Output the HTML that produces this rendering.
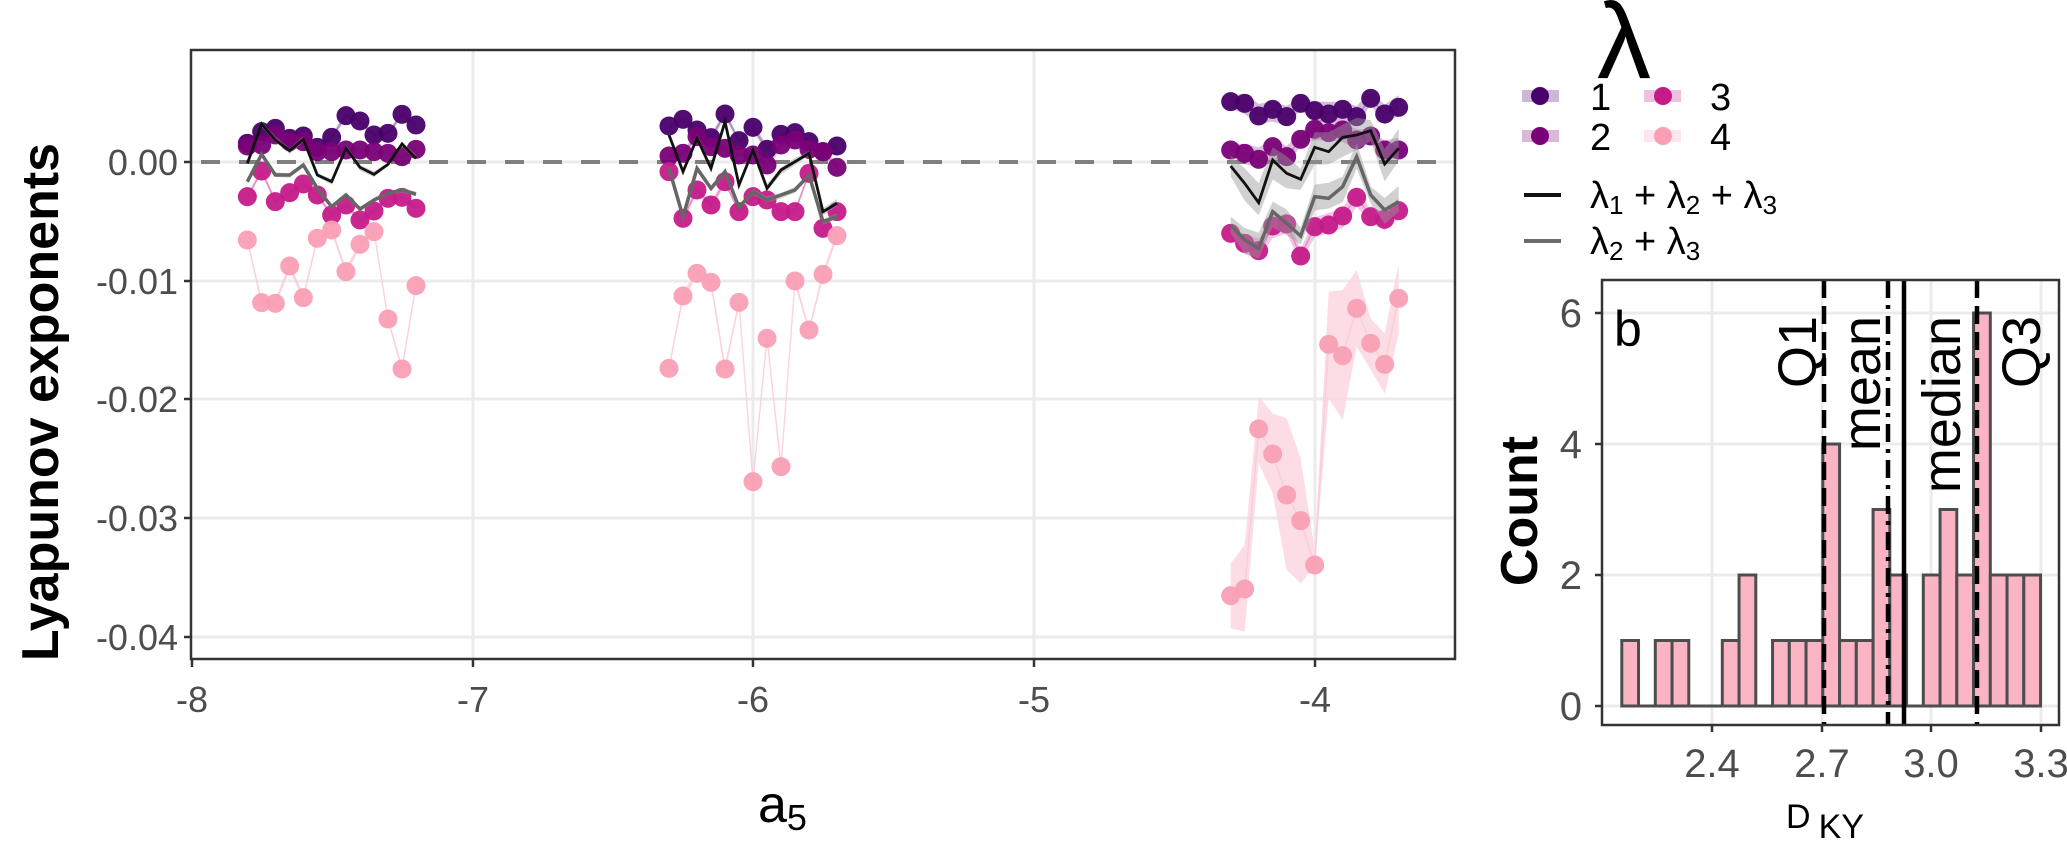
<!DOCTYPE html>
<html><head><meta charset="utf-8">
<style>
html,body{margin:0;padding:0;background:#fff;}
svg{display:block;font-family:"Liberation Sans",Arial,sans-serif;}
</style></head>
<body>
<svg id="s" width="2067" height="844" viewBox="0 0 2067 844" xmlns="http://www.w3.org/2000/svg">
<rect width="2067" height="844" fill="#fff"/>
<g stroke="#ebebeb" stroke-width="3">
<line x1="191" y1="162" x2="1455" y2="162"/>
<line x1="191" y1="281" x2="1455" y2="281"/>
<line x1="191" y1="399" x2="1455" y2="399"/>
<line x1="191" y1="518" x2="1455" y2="518"/>
<line x1="191" y1="637" x2="1455" y2="637"/>
<line x1="473" y1="50" x2="473" y2="659"/>
<line x1="753" y1="50" x2="753" y2="659"/>
<line x1="1034" y1="50" x2="1034" y2="659"/>
<line x1="1315" y1="50" x2="1315" y2="659"/>
</g>
<line x1="191" y1="162" x2="1455" y2="162" stroke="#7f7f7f" stroke-width="4" stroke-dasharray="19 19" stroke-dashoffset="-10"/>
<g id="data"></g>
<rect x="191" y="50" width="1264" height="609" fill="none" stroke="#333" stroke-width="2.5"/>
<g stroke="#333" stroke-width="2.5">
<line x1="184" y1="162" x2="191" y2="162"/><line x1="184" y1="281" x2="191" y2="281"/>
<line x1="184" y1="399" x2="191" y2="399"/><line x1="184" y1="518" x2="191" y2="518"/>
<line x1="184" y1="637" x2="191" y2="637"/>
<line x1="192" y1="659" x2="192" y2="667"/><line x1="473" y1="659" x2="473" y2="667"/>
<line x1="753" y1="659" x2="753" y2="667"/><line x1="1034" y1="659" x2="1034" y2="667"/>
<line x1="1315" y1="659" x2="1315" y2="667"/>
</g>
<g fill="#4d4d4d" font-size="36" text-anchor="end">
<text x="178" y="175">0.00</text><text x="178" y="294">-0.01</text>
<text x="178" y="412">-0.02</text><text x="178" y="531">-0.03</text>
<text x="178" y="650">-0.04</text>
</g>
<g fill="#4d4d4d" font-size="36" text-anchor="middle">
<text x="192" y="712">-8</text><text x="473" y="712">-7</text><text x="753" y="712">-6</text>
<text x="1034" y="712">-5</text><text x="1315" y="712">-4</text>
</g>
<text x="758" y="822" font-size="52" fill="#000">a<tspan font-size="36" dy="8">5</tspan></text>
<text transform="translate(58,402) rotate(-90)" text-anchor="middle" font-size="52" font-weight="bold" fill="#000">Lyapunov exponents</text>

<text x="1597" y="78" font-size="108" fill="#000">λ</text>
<g>
<rect x="1522" y="90" width="37" height="12" fill="#49006a" opacity="0.28"/><circle cx="1540" cy="96" r="9" fill="#49006a"/>
<rect x="1522" y="130" width="37" height="12" fill="#7a0177" opacity="0.28"/><circle cx="1540" cy="136" r="9" fill="#7a0177"/>
<rect x="1644" y="90" width="37" height="12" fill="#c51b8a" opacity="0.28"/><circle cx="1663" cy="96" r="9" fill="#c51b8a"/>
<rect x="1644" y="130" width="37" height="12" fill="#f768a1" opacity="0.18"/><circle cx="1663" cy="136" r="9" fill="#f99fb4"/>
<line x1="1524" y1="195" x2="1561" y2="195" stroke="#111" stroke-width="4"/>
<line x1="1524" y1="241" x2="1561" y2="241" stroke="#6b6b6b" stroke-width="4"/>
</g>
<g font-size="38" fill="#000">
<text x="1590" y="110">1</text><text x="1710" y="110">3</text>
<text x="1590" y="150">2</text><text x="1710" y="150">4</text>
<text x="1590" y="208">λ<tspan font-size="26" dy="6">1</tspan><tspan dy="-6"> + λ</tspan><tspan font-size="26" dy="6">2</tspan><tspan dy="-6"> + λ</tspan><tspan font-size="26" dy="6">3</tspan></text>
<text x="1590" y="254">λ<tspan font-size="26" dy="6">2</tspan><tspan dy="-6"> + λ</tspan><tspan font-size="26" dy="6">3</tspan></text>
</g>

<g stroke="#ebebeb" stroke-width="3">
<line x1="1602" y1="313" x2="2059" y2="313"/><line x1="1602" y1="444" x2="2059" y2="444"/>
<line x1="1602" y1="575" x2="2059" y2="575"/><line x1="1602" y1="706" x2="2059" y2="706"/>
<line x1="1712" y1="280" x2="1712" y2="725"/><line x1="1822" y1="280" x2="1822" y2="725"/>
<line x1="1931" y1="280" x2="1931" y2="725"/><line x1="2041" y1="280" x2="2041" y2="725"/>
</g>
<g id="bars"></g>
<g stroke="#000" stroke-width="4.5">
<line x1="1824" y1="280" x2="1824" y2="725" stroke-dasharray="18 8"/>
<line x1="1888" y1="280" x2="1888" y2="725" stroke-dasharray="18 7 4 7"/>
<line x1="1904" y1="280" x2="1904" y2="725"/>
<line x1="1977" y1="280" x2="1977" y2="725" stroke-dasharray="18 8"/>
</g>
<rect x="1602" y="280" width="457" height="445" fill="none" stroke="#333" stroke-width="2.5"/>
<g stroke="#333" stroke-width="2.5">
<line x1="1595" y1="313" x2="1602" y2="313"/><line x1="1595" y1="444" x2="1602" y2="444"/>
<line x1="1595" y1="575" x2="1602" y2="575"/><line x1="1595" y1="706" x2="1602" y2="706"/>
<line x1="1712" y1="725" x2="1712" y2="732"/><line x1="1822" y1="725" x2="1822" y2="732"/>
<line x1="1931" y1="725" x2="1931" y2="732"/><line x1="2041" y1="725" x2="2041" y2="732"/>
</g>
<g fill="#4d4d4d" font-size="40" text-anchor="end">
<text x="1582" y="327">6</text><text x="1582" y="458">4</text>
<text x="1582" y="589">2</text><text x="1582" y="720">0</text>
</g>
<g fill="#4d4d4d" font-size="40" text-anchor="middle">
<text x="1712" y="777">2.4</text><text x="1822" y="777">2.7</text>
<text x="1931" y="777">3.0</text><text x="2041" y="777">3.3</text>
</g>
<text x="1614" y="346" font-size="50" fill="#000">b</text>
<g font-size="54" fill="#000" text-anchor="end">
<text transform="translate(1816,316) rotate(-90)">Q1</text>
<text transform="translate(1880,316) rotate(-90)">mean</text>
<text transform="translate(1960,316) rotate(-90)">median</text>
<text transform="translate(2040,316) rotate(-90)">Q3</text>
</g>
<text transform="translate(1537,511) rotate(-90)" text-anchor="middle" font-size="52" font-weight="bold" fill="#000">Count</text>
<text x="1786" y="828" font-size="34" fill="#000">D<tspan dx="8" dy="10">KY</tspan></text>
</svg>
<script>
(function(){
var NS="http://www.w3.org/2000/svg";
function el(p,t,a){var e=document.createElementNS(NS,t);for(var k in a)e.setAttribute(k,a[k]);p.appendChild(e);return e;}
var D=document.getElementById("data");
var C1="#49006a",C2="#7a0177",C3="#c51b8a",C4="#f99fb4";
var clusters=[
{ox:140,oy:60,xs:[322,365,406,449,490,532,575,618,660,702,744,786,828],
 l1:[250,215,205,235,228,262,232,167,183,225,220,163,195],
 l2:[258,255,225,245,245,275,275,270,270,275,280,290,268],
 l3:[410,333,425,398,372,405,465,435,480,453,415,412,445],
 l4:[540,728,730,618,713,535,510,635,553,515,777,927,677],
 bk:[310,192,240,272,238,345,365,265,322,343,313,252,295],
 gr:[365,283,345,345,315,385,440,405,447,420,400,390,403],
 r:8,r4:10,rs:8},
{ox:650,oy:90,xs:[57,99,141,183,225,267,309,351,393,435,477,519,561],
 l1:[108,88,120,143,72,152,112,178,133,128,155,185,168],
 l2:[198,190,140,170,175,195,195,225,165,150,178,185,232],
 l3:[245,385,300,345,275,365,320,330,365,365,250,415,365],
 l4:[835,618,550,577,837,637,1175,745,1130,573,720,553,437],
 bk:[135,245,145,235,95,285,180,295,240,215,190,365,340],
 gr:[235,380,235,295,245,352,305,330,315,300,255,395,380],
 r:10,r4:12,rs:10},
{ox:1215,oy:60,xs:[47,89,131,173,215,257,299,341,383,425,467,509,551],
 l1:[125,130,168,148,170,130,152,162,148,170,115,162,142],
 l2:[270,280,298,260,290,238,208,218,210,240,228,270,270],
 l3:[520,550,572,498,492,588,500,495,468,412,470,478,452],
 l4:[1607,1587,1107,1182,1305,1382,1515,853,887,745,850,913,715],
 l4u:[1510,1455,1010,1060,1075,1195,1470,695,690,630,775,820,610],
 l4l:[1705,1715,1210,1300,1530,1570,1520,1015,1080,860,930,1000,825],
 bk:[318,370,428,300,340,358,262,275,232,225,212,312,265],
 gr:[495,540,565,455,490,528,410,415,380,290,405,450,425],
 r:28,r4:0,rs:45}
];
function pts(c,ys){return c.xs.map(function(x,i){return [c.ox+x/3,c.oy+ys[i]/3];});}
function poly(c,up,lo){var a=[],i;for(i=0;i<c.xs.length;i++)a.push((c.ox+c.xs[i]/3)+","+(c.oy+up[i]/3));for(i=c.xs.length-1;i>=0;i--)a.push((c.ox+c.xs[i]/3)+","+(c.oy+lo[i]/3));return a.join(" ");}
function band(c,ys,r){return poly(c,ys.map(function(v,i){return v-r*(0.7+0.6*((i*7)%5)/4);}),ys.map(function(v,i){return v+r*(0.7+0.6*((i*3)%5)/4);}));}
function line(c,ys,col,w,op){el(D,"polyline",{points:pts(c,ys).map(function(p){return p.join(",");}).join(" "),fill:"none",stroke:col,"stroke-width":w,opacity:op,"stroke-linejoin":"miter"});}
clusters.forEach(function(c){
 [[c.l1,C1,0.25],[c.l2,C2,0.25],[c.l3,C3,0.25]].forEach(function(s){el(D,"polygon",{points:band(c,s[0],c.r),fill:s[1],opacity:s[2]});});
 if(c.l4u) el(D,"polygon",{points:poly(c,c.l4u,c.l4l),fill:"#fcd5de",opacity:0.8});
 else el(D,"polygon",{points:band(c,c.l4,c.r4),fill:"#fcd5de",opacity:0.7});
 line(c,c.l1,C1,1.5,0.3);line(c,c.l2,C2,1.5,0.3);line(c,c.l3,C3,1.5,0.3);line(c,c.l4,"#f9c4d0",1.5,0.6);
 [[c.l1,C1],[c.l2,C2],[c.l3,C3],[c.l4,C4]].forEach(function(s){pts(c,s[0]).forEach(function(p){el(D,"circle",{cx:p[0],cy:p[1],r:9.5,fill:s[1],"fill-opacity":0.95});});});
 el(D,"polygon",{points:band(c,c.bk,c.rs),fill:"#9a9a9a",opacity:0.45});
 el(D,"polygon",{points:band(c,c.gr,c.rs*0.8),fill:"#9a9a9a",opacity:0.45});
 line(c,c.gr,"#666",3.5,1);line(c,c.bk,"#111",2.8,1);
});
var B=document.getElementById("bars");
var cnt=[1,0,1,1,0,0,1,2,0,1,1,1,4,1,1,3,2,0,2,3,2,6,2,2,2];
var x0=1621.8,w=16.75;
cnt.forEach(function(n,i){var x=x0+i*w;var h=n*65.5;
 if(n>0) el(B,"rect",{x:x,y:706-h,width:w,height:h,fill:"#fbb4c4",stroke:"#4d4d4d","stroke-width":3});
 else el(B,"line",{x1:x,y1:706,x2:x+w,y2:706,stroke:"#4d4d4d","stroke-width":3});
});
})();
</script>
</body></html>
